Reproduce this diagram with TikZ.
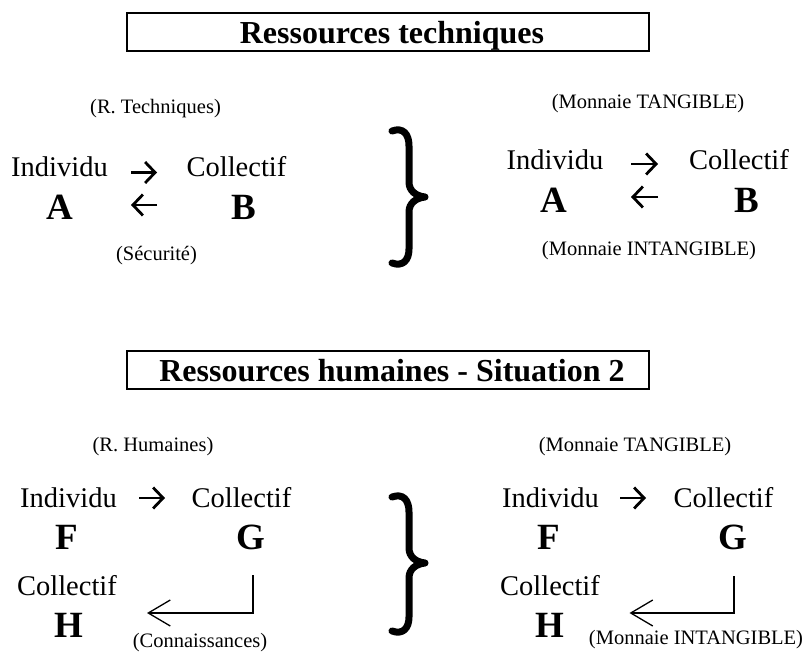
\documentclass[tikz,border=0pt]{standalone}
\usepackage{fontspec}
\setmainfont{Liberation Serif}
\usetikzlibrary{arrows.meta}
\begin{document}
\begin{tikzpicture}[x=1pt,y=-1pt,
  titlebox/.style={draw, line width=1.6pt, minimum width=522pt, minimum height=38pt, inner sep=0pt, text depth=0pt, font=\fontsize{32}{34}\selectfont\bfseries},
  small/.style={inner sep=0pt, font=\fontsize{20.5}{22}\selectfont},
  word/.style={inner sep=0pt, anchor=base, font=\fontsize{28.5}{30}\selectfont},
  letter/.style={inner sep=0pt, anchor=base, font=\fontsize{37}{39}\selectfont\bfseries},
  glypharrow/.style={line width=2.8pt, -{Straight Barb[length=10pt,width=21pt,line width=2.8pt]}},
  conn/.style={line width=1.3pt, -{Straight Barb[length=22pt,width=26pt,line width=1.3pt]}},
  bracestyle/.style={line width=7pt, line cap=round, line join=round}
]
\useasboundingbox (0,0) rectangle (810,652);

% ---------- Section 1 ----------
\node[titlebox] (t1) at (388,32) {\hspace*{8pt}Ressources techniques};

\node[small] (rt) at (155.5,108.5) {(R. Techniques)};
\node[word] (i1) at (59.5,177) {Individu};
\node[word] (c1) at (236.5,177) {Collectif};
\node[letter] (A1) at (59.5,220) {A};
\node[letter] (B1) at (244,220) {B};
\node[small] (sec) at (156.5,256) {(Sécurité)};
\coordinate (a1s) at (131,172.5); \coordinate (a1e) at (157,172.5);
\coordinate (b1s) at (157,205);   \coordinate (b1e) at (131,205);
\draw[glypharrow] (a1s) -- (a1e);
\draw[glypharrow] (b1s) -- (b1e);

\draw[bracestyle] (392,131) .. controls (403,127) and (409,134) .. (409,146) -- (409,182)
  .. controls (409,191) and (416,196) .. (425,197) .. controls (416,198) and (409,203) .. (409,212)
  -- (409,249) .. controls (409,260) and (403,267) .. (392,263);

\node[small] (mt1) at (648,103.5) {(Monnaie TANGIBLE)};
\node[word] (i2) at (555,170) {Individu};
\node[word] (c2) at (739,170) {Collectif};
\node[letter] (A2) at (554,213) {A};
\node[letter] (B2) at (746.5,213) {B};
\node[small] (mi1) at (649,251) {(Monnaie INTANGIBLE)};
\coordinate (a2s) at (631,164); \coordinate (a2e) at (658,164);
\coordinate (b2s) at (658,197); \coordinate (b2e) at (631,197);
\draw[glypharrow] (a2s) -- (a2e);
\draw[glypharrow] (b2s) -- (b2e);

% ---------- Section 2 ----------
\node[titlebox] (t2) at (388,370) {\hspace*{8pt}Ressources humaines - Situation 2};

\node[small] (rh) at (153,447) {(R. Humaines)};
\node[word] (i3) at (68.5,507) {Individu};
\node[word] (c3) at (241.5,507) {Collectif};
\node[letter] (F1) at (66.5,549) {F};
\node[letter] (G1) at (250.5,549) {G};
\node[word] (c4) at (67,595) {Collectif};
\node[letter] (H1) at (68.5,637) {H};
\node[small] (con) at (200,643) {(Connaissances)};
\coordinate (a3s) at (139,498); \coordinate (a3e) at (165,498);
\draw[glypharrow] (a3s) -- (a3e);
\coordinate (g1) at (253,575); \coordinate (h1) at (147,613);
\draw[conn] (g1) |- (h1);

\draw[bracestyle] (392,497) .. controls (403,493) and (409,500) .. (409,512) -- (409,548)
  .. controls (409,557) and (416,562) .. (425,563) .. controls (416,564) and (409,569) .. (409,578)
  -- (409,617) .. controls (409,628) and (403,635) .. (392,631);

\node[small] (mt2) at (635,447) {(Monnaie TANGIBLE)};
\node[word] (i4) at (550.5,507) {Individu};
\node[word] (c5) at (723.5,507) {Collectif};
\node[letter] (F2) at (549,549) {F};
\node[letter] (G2) at (732.5,549) {G};
\node[word] (c6) at (550,595) {Collectif};
\node[letter] (H2) at (550,637) {H};
\node[small] (mi2) at (696,640) {(Monnaie INTANGIBLE)};
\coordinate (a4s) at (620,498); \coordinate (a4e) at (646,498);
\draw[glypharrow] (a4s) -- (a4e);
\coordinate (g2) at (734,576); \coordinate (h2) at (629.5,613);
\draw[conn] (g2) |- (h2);
\end{tikzpicture}
\end{document}
